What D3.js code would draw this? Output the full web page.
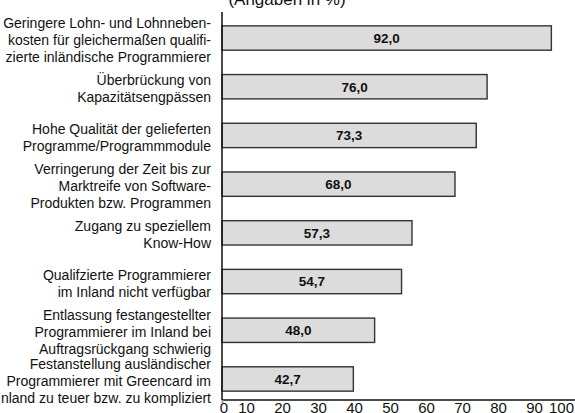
<!DOCTYPE html>
<meta charset="utf-8">
<html>
<head>
    <title>Gründe (Angaben in %)</title>
    <script src="https://cdn.jsdelivr.net/npm/d3@7"></script>
</head>
<style>
    body{
        margin: 0;
        background: #fff;
    }
    svg{
        display: block;
    }
    text{
        font-family: "Liberation Sans", Arial, Helvetica, sans-serif;
        fill: #111;
    }
    .cat{
        font-size: 14px;
    }
    .val{
        font-size: 13.5px;
        font-weight: bold;
    }
    .tick text{
        font-size: 15px;
    }
</style>
<body>
<svg width="575" height="413"></svg>

<script>
    const title = "(Angaben in %)"

    // category labels, one entry per bar, split into lines as in the picture
    const labels = [
        ["Geringere Lohn- und Lohnneben-", "kosten für gleichermaßen qualifi-", "zierte inländische Programmierer"],
        ["Überbrückung von", "Kapazitätsengpässen"],
        ["Hohe Qualität der gelieferten", "Programme/Programmmodule"],
        ["Verringerung der Zeit bis zur", "Marktreife von Software-", "Produkten bzw. Programmen"],
        ["Zugang zu speziellem", "Know-How"],
        ["Qualifzierte Programmierer", "im Inland nicht verfügbar"],
        ["Entlassung festangestellter", "Programmierer im Inland bei", "Auftragsrückgang schwierig"],
        ["Festanstellung ausländischer", "Programmierer mit Greencard im", "Inland zu teuer bzw. zu kompliziert"]
    ]
    const values = [92.0, 76.0, 73.3, 68.0, 57.3, 54.7, 48.0, 42.7]
    const tickValues = [0, 10, 20, 30, 40, 50, 60, 70, 80, 90, 100]

    const svg = d3.select("svg")
    const x0 = 222
    const axisY = 400
    const lineH = 17

    // in the original artwork the bars start at the 10 mark
    const xBar = d3.scaleLinear().domain([10, 100]).range([x0, 583.5])
    // the tick labels are squeezed at both ends in the original
    const xTick = d3.scaleLinear().domain([0, 10, 90, 100]).range([223.5, 246, 534, 561])

    const y = d3.scaleBand()
        .domain(d3.range(values.length))
        .range([1.5, 415.5])
        .paddingInner(0.5)
        .paddingOuter(0.5)

    // title (cut off at the top)
    svg.append("text")
        .attr("x", 287)
        .attr("y", 5)
        .attr("text-anchor", "middle")
        .style("font-size", "17px")
        .text(title)

    // bars
    svg.selectAll("rect.bar")
        .data(values)
        .enter()
        .append("rect")
        .attr("class", "bar")
        .attr("x", x0)
        .attr("y", (d, i) => y(i))
        .attr("width", d => xBar(d) - x0)
        .attr("height", y.bandwidth())
        .style("fill", "#dcdcdc")
        .style("stroke", "#333")
        .style("stroke-width", 1.4)

    // value labels
    svg.selectAll("text.val")
        .data(values)
        .enter()
        .append("text")
        .attr("class", "val")
        .attr("x", d => (x0 + xBar(d)) / 2)
        .attr("y", (d, i) => y(i) + y.bandwidth() / 2)
        .attr("dy", "0.36em")
        .attr("text-anchor", "middle")
        .text(d => d3.format(".1f")(d).replace(".", ","))

    // category labels
    const cats = svg.selectAll("text.cat")
        .data(labels)
        .enter()
        .append("text")
        .attr("class", "cat")
        .attr("text-anchor", "end")

    cats.selectAll("tspan")
        .data((d, i) => d.map((line, j) => ({line: line, j: j, n: d.length, i: i})))
        .enter()
        .append("tspan")
        .attr("x", 211)
        .attr("y", d => y(d.i) + y.bandwidth() / 2 + 7 + (d.j - (d.n - 1) / 2) * lineH)
        .text(d => d.line)

    // x axis tick labels
    const axis = svg.append("g")
        .attr("transform", `translate(0, ${axisY})`)
        .call(d3.axisBottom(xTick).tickValues(tickValues).tickSize(0).tickPadding(2).tickFormat(d3.format("d")))
    axis.select(".domain").remove()

    // axis lines
    svg.append("line")
        .attr("x1", x0).attr("x2", x0)
        .attr("y1", 12).attr("y2", axisY)
        .style("stroke", "#111").style("stroke-width", 1.5)
    svg.append("line")
        .attr("x1", x0).attr("x2", 575)
        .attr("y1", axisY).attr("y2", axisY)
        .style("stroke", "#111").style("stroke-width", 1.5)
    svg.append("line")
        .attr("x1", x0 + 0.5).attr("x2", x0 + 0.5)
        .attr("y1", axisY).attr("y2", axisY + 3)
        .style("stroke", "#999").style("stroke-width", 2)
</script>
</body>
</html>
